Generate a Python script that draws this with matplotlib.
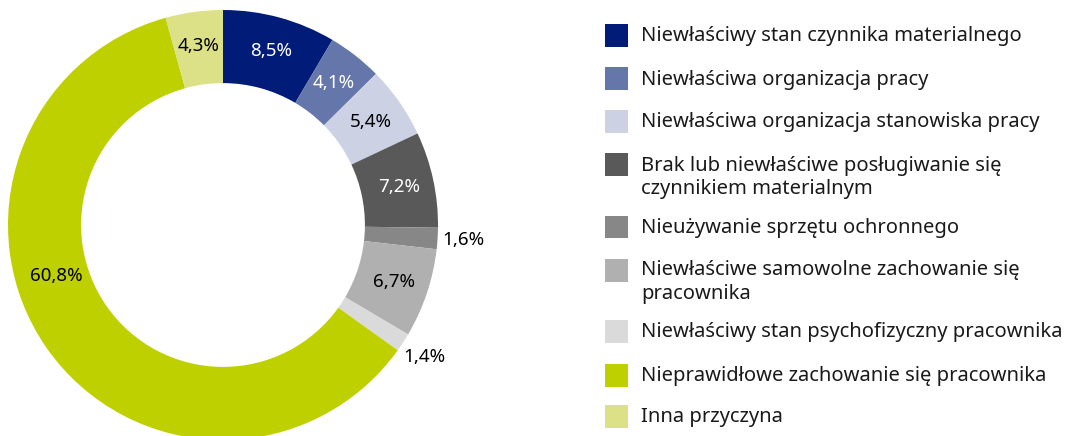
import matplotlib
matplotlib.use('Agg')
import matplotlib.pyplot as plt
from matplotlib.patches import Rectangle
import numpy as np

plt.rcParams['font.family'] = ['Noto Sans', 'DejaVu Sans']

categories = [
	"Niewłaściwy stan czynnika materialnego",
	"Niewłaściwa organizacja pracy",
	"Niewłaściwa organizacja stanowiska pracy",
	"Brak lub niewłaściwe posługiwanie się\nczynnikiem materialnym",
	"Nieużywanie sprzętu ochronnego",
	"Niewłaściwe samowolne zachowanie się\npracownika",
	"Niewłaściwy stan psychofizyczny pracownika",
	"Nieprawidłowe zachowanie się pracownika",
	"Inna przyczyna",
]
values = [8.5, 4.1, 5.4, 7.2, 1.6, 6.7, 1.4, 60.8, 4.3]
colors = ["#001c78", "#6576ab", "#ccd2e3", "#595959", "#878787",
	"#b0b0b0", "#dadada", "#bfd000", "#dce187"]
labelColors = ["white", "white", "black", "white", "black",
	"black", "black", "black", "black"]
# small slices get their label outside the ring
outside = [False, False, False, False, True, False, True, False, False]

W, H = 1067, 436
fig = plt.figure(figsize=(W / 100, H / 100), dpi=100)

cx, cy, R = 223, 225, 215
ax = fig.add_axes([(cx - R) / W, (H - cy - R) / H, 2 * R / W, 2 * R / H])
wedges, _ = ax.pie(values, colors=colors, startangle=90, counterclock=False,
	radius=1.0, wedgeprops=dict(width=0.34, linewidth=0))
ax.set_xlim(-1, 1)
ax.set_ylim(-1, 1)
ax.set_aspect('equal')
ax.axis('off')

for i, w in enumerate(wedges):
	mid = np.deg2rad((w.theta1 + w.theta2) / 2)
	r = 1.12 if outside[i] else 0.84
	if values[i] > 50:
		# big slice: label sits lower on the ring
		mid = np.deg2rad(197)
		r = 0.81
	txt = ("%.1f%%" % values[i]).replace(".", ",")
	ax.text(r * np.cos(mid), r * np.sin(mid), txt, ha='center', va='center',
		fontsize=13.5, color=labelColors[i])

# legend drawn by hand, square aligned with first line of label
legendY = [36, 79, 121, 165, 227, 270, 331, 375, 416]
for i, label in enumerate(categories):
	y = legendY[i]
	fig.add_artist(Rectangle((605 / W, (H - y - 11.5) / H), 23 / W, 23 / H,
		transform=fig.transFigure, facecolor=colors[i], edgecolor='none'))
	fig.text(641 / W, (H - y + 9.5) / H, label, ha='left', va='top',
		fontsize=14.5, color='#1a1a1a', linespacing=1.26)

fig.savefig("out.png", dpi=100)
